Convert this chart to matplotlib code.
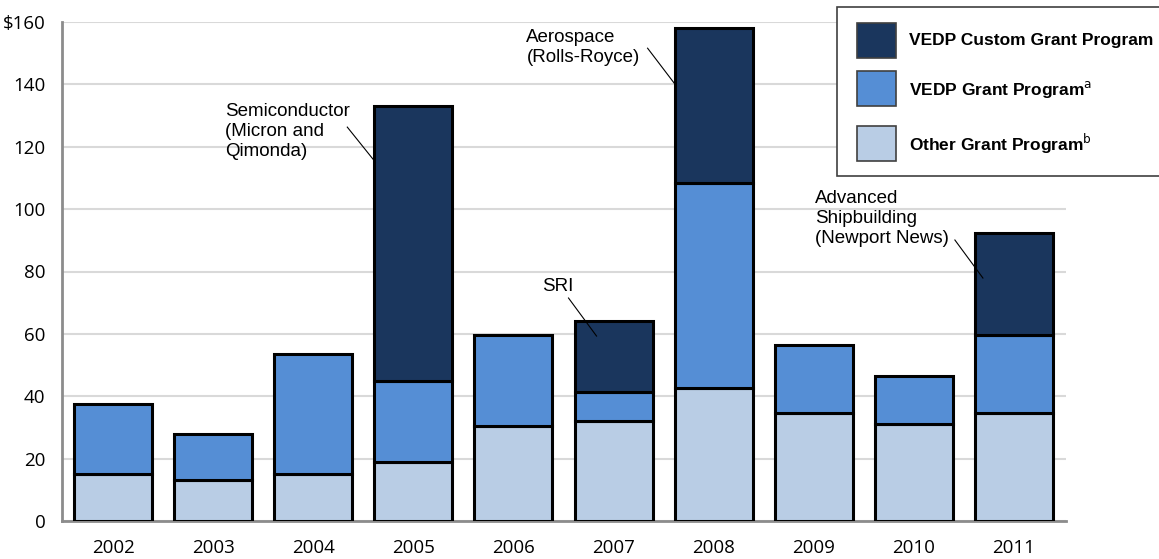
import matplotlib
matplotlib.use("Agg")
import matplotlib.pyplot as plt
from matplotlib.patches import Rectangle
import numpy as np

years = ["2002", "2003", "2004", "2005", "2006", "2007", "2008", "2009", "2010", "2011"]
other_grant = [15, 13, 15, 19, 30.5, 32, 42.5, 34.5, 31, 34.5]
vedp_grant = [22.5, 15, 38.5, 26, 29, 9.5, 66, 22, 15.5, 25]
vedp_custom = [0, 0, 0, 88, 0, 22.5, 49.5, 0, 0, 33]
ytick_vals = [0, 20, 40, 60, 80, 100, 120, 140, 160]
ytick_labels = ["0", "20", "40", "60", "80", "100", "120", "140", "$160"]
legend_labels = ["VEDP Custom Grant Program", "VEDP Grant Program$^{\\mathrm{a}}$", "Other Grant Program$^{\\mathrm{b}}$"]

c_dark = "#1a365d"
c_mid = "#558ed5"
c_light = "#b9cde5"

fig = plt.figure(figsize=(11.59, 5.59), dpi=100)
ax = fig.add_axes([62/1159, 1-521/559, (1066-62)/1159, (521-22)/559])

x = np.arange(len(years))
w = 0.78
ob = np.array(other_grant)
vb = np.array(vedp_grant)
cb = np.array(vedp_custom)
ax.bar(x, ob, w, color=c_light, edgecolor="black", linewidth=2.2, zorder=3)
ax.bar(x, vb, w, bottom=ob, color=c_mid, edgecolor="black", linewidth=2.2, zorder=3)
mask = cb > 0
ax.bar(x[mask], cb[mask], w, bottom=(ob+vb)[mask], color=c_dark, edgecolor="black", linewidth=2.2, zorder=3)

ax.set_xlim(-0.51, 9.52)
ax.set_ylim(0, 160)
ax.set_yticks(ytick_vals)
ax.set_yticklabels(ytick_labels)
ax.set_xticks(x)
ax.set_xticklabels(years)
ax.tick_params(axis="both", length=0, labelsize=13.5, colors="black")
ax.tick_params(axis="y", pad=12)
ax.tick_params(axis="x", pad=13)
for lab in ax.get_xticklabels() + ax.get_yticklabels():
    lab.set_fontfamily(["Open Sans", "DejaVu Sans"])
ax.grid(axis="y", color="#d9d9d9", linewidth=1.5, zorder=0)
ax.set_axisbelow(True)
for s in ["top", "right"]:
    ax.spines[s].set_visible(False)
ax.spines["left"].set_color("#8c8c8c")
ax.spines["bottom"].set_color("#8c8c8c")
ax.spines["left"].set_linewidth(2)
ax.spines["bottom"].set_linewidth(2)

afont = dict(fontsize=13.5, family="Liberation Sans", linespacing=1.22)
ax.text(1.12, 134.0, "Semiconductor\n(Micron and\nQimonda)", va="top", ha="left", **afont)
ax.plot([2.34, 2.62], [126.3, 115.1], color="black", lw=0.8, zorder=4)
ax.text(4.13, 157.6, "Aerospace\n(Rolls-Royce)", va="top", ha="left", **afont)
ax.plot([5.34, 5.62], [151.6, 139.8], color="black", lw=0.8, zorder=4)
ax.text(4.44, 75.2, "SRI", va="center", ha="center", **afont)
ax.plot([4.55, 4.83], [71.5, 59.3], color="black", lw=0.8, zorder=4)
ax.text(7.01, 106.2, "Advanced\nShipbuilding\n(Newport News)", va="top", ha="left", **afont)
ax.plot([8.41, 8.69], [90.1, 77.9], color="black", lw=0.8, zorder=4)

# legend box (manual, extends past right edge)
W, H = 1159, 559
fig.patches.append(Rectangle((837/W, 1-176/H), (1170-837)/W, (176-7)/H, transform=fig.transFigure,
                             facecolor="white", edgecolor="#404040", linewidth=1.2, zorder=5))
sq_tops = [23, 71, 126]
colors = [c_dark, c_mid, c_light]
for top, col, lab in zip(sq_tops, colors, legend_labels):
    fig.patches.append(Rectangle((857/W, 1-(top+35)/H), 39/W, 35/H, transform=fig.transFigure,
                                 facecolor=col, edgecolor="#404040", linewidth=1.2, zorder=6))
    fig.text(909/W, 1-(top+18)/H, lab, fontsize=12.5, fontweight="bold", family="Liberation Sans",
             va="center", ha="left", zorder=7)

fig.savefig("out.png", dpi=100)
